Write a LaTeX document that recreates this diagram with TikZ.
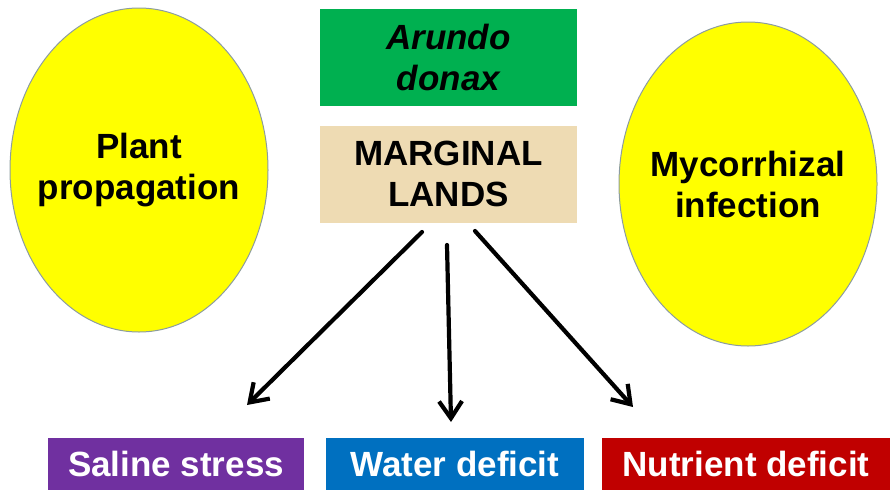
\documentclass[tikz,border=0pt]{standalone}
\usepackage{fontspec}
\setmainfont{Liberation Sans}
\usepackage{xcolor}
\usetikzlibrary{arrows.meta, shapes.geometric}
\definecolor{sunyellow}{HTML}{FFFF00}
\definecolor{rimgray}{HTML}{8C9CA0}
\definecolor{reedgreen}{HTML}{00B050}
\definecolor{sandtan}{HTML}{EEDBB3}
\definecolor{stresspurple}{HTML}{7030A0}
\definecolor{stressblue}{HTML}{0070C0}
\definecolor{stressred}{HTML}{C00000}
\newcommand{\bigfont}{\fontsize{35}{41}\selectfont\bfseries}
\tikzset{
  blob/.style={ellipse, draw=rimgray, line width=1pt, fill=sunyellow, minimum width=258pt, minimum height=324pt, inner xsep=-12pt, inner ysep=0pt, align=center, font=\bigfont},
  titlebox/.style={rectangle, minimum width=257pt, minimum height=97pt, inner sep=0pt, align=center, font=\bigfont},
  stressbox/.style={rectangle, minimum height=52pt, inner sep=0pt, text=white, font=\bigfont},
  bigarr/.style={-{Straight Barb[length=17pt, width=23pt]}, line width=4.2pt, line cap=round},
}

\begin{document}
\begin{tikzpicture}[x=1pt, y=-1pt]
\useasboundingbox (0,0) rectangle (890,490);
\node[blob] (plant) at (139,170) {Plant\\propagation};
\node[blob] (myco) at (748,184) {Mycorrhizal\\infection};
\node[titlebox, fill=reedgreen] (arundo) at (448.5,57.5) {\itshape Arundo\\\itshape donax};
\node[titlebox, fill=sandtan] (marginal) at (448.5,174) {MARGINAL\\LANDS};
\node[stressbox, fill=stresspurple, minimum width=256pt] (saline) at (176,464) {Saline stress};
\node[stressbox, fill=stressblue, minimum width=258pt] (water) at (455,464) {Water deficit};
\node[stressbox, fill=stressred, minimum width=288pt] (nutrient) at (746,464) {Nutrient deficit};
\coordinate (s1) at (422,232); \coordinate (t1) at (247,405);
\coordinate (s2) at (447,245); \coordinate (t2) at (451,422);
\coordinate (s3) at (475,231); \coordinate (t3) at (633,407);
\foreach \x/\y in {s1/t1,s2/t2,s3/t3} \draw[bigarr] (\x) -- (\y);
\end{tikzpicture}
\end{document}
